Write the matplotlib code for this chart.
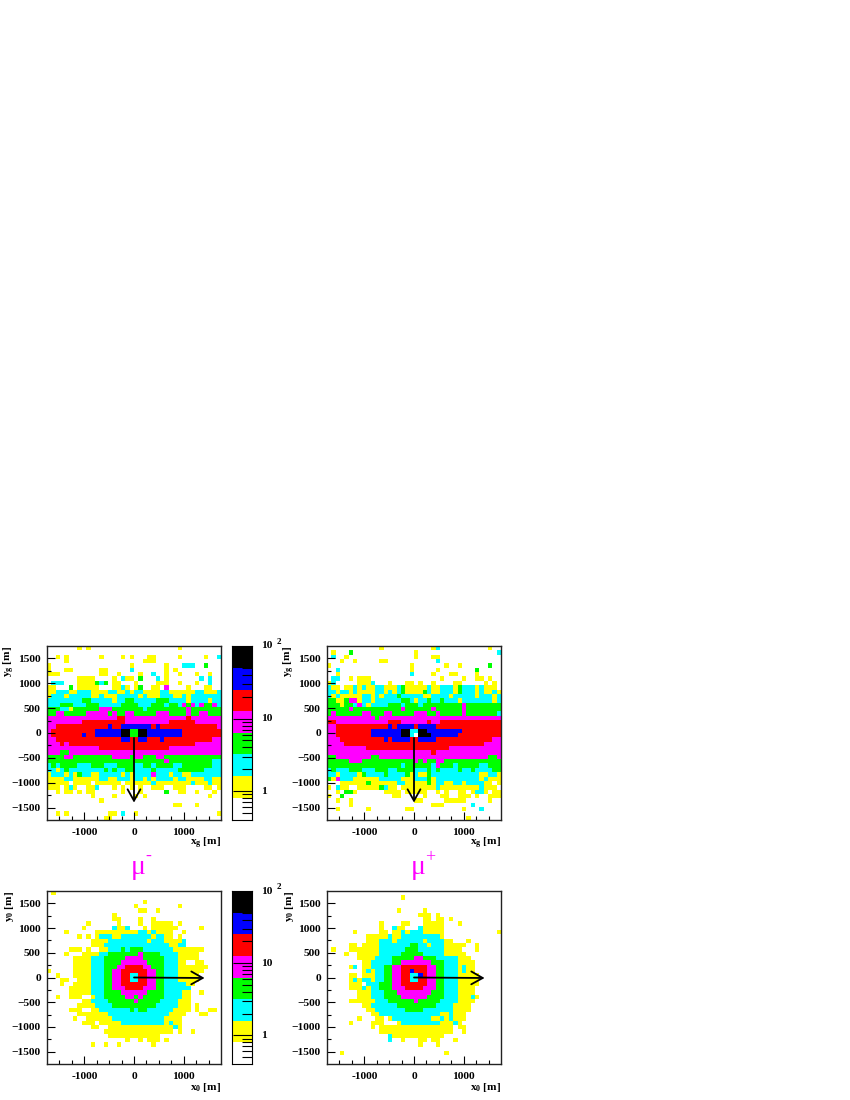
import numpy as np
import matplotlib
matplotlib.use("Agg")
from matplotlib import pyplot as plt
from matplotlib.colors import ListedColormap, BoundaryNorm

# colour level of each bin, top row first, 0 = empty ... 7 = black
grid_xg_minus = """
0000000101 0000000000 0000000000 1000000000
0000000000 0000000000 0000000000 0000000000
0010100000 0010000101 0001100000 1000001002
0000100000 0000000000 0011100000 0000000000
1000000000 0000000001 0000000100 0222003000
1000110000 0011000002 0000000101 0000000000
1110000000 0011001000 0100200100 1000100100
0000000111 1000010211 0300020100 0000020200
0222000111 1323011000 1000011100 1000100200
1100030111 1100011210 1300110400 0010001100
1122211222 1111221121 2211112211 1111221112
1222122222 1121112222 2121112221 1212222222
2222222233 2222212233 2222233322 2212222122
2223332223 3322222333 3222333233 2434243342
3332213333 3344433333 3323333333 3343333333
3344333334 4444343344 3333344433 3343344333
4444444444 4444445544 4444444444 4454444444
4444444455 5555555544 4444444455 5555444444
4455555555 5555655666 6666565555 5555555554
4555555555 5666666773 3776666666 6555555555
4555555565 5666666773 3776666666 6555555555
4455555555 5555555665 5665556555 5555555544
4445455555 5555555555 5555555555 5555444444
4444444444 4455555555 5555555544 4444444444
4443344444 4444444444 4444444444 4444444444
3333443333 3333344443 4433344333 3333333333
3333333333 3333333333 3333333433 3333333322
2323333222 3332223333 2233233332 2333333322
2212322222 2223232233 2222322222 3333332222
1222121322 1122222121 2222422212 2112222222
1111221111 1122112221 2212122221 2211112211
1111101111 0111111011 1111211111 1112111211
1110121001 1200010101 0100111001 1100001101
0010110101 1000000100 0100000300 1100100010
0000000000 1000010000 1010000000 0000000100
0000000000 0010000000 0000000000 0000000000
0000000000 0000000000 0000000001 1000100000
0000000000 0000000000 0000000000 0000000000
0010100000 0000110200 1000000000 0000000001
0000000000 0001100000 0000000000 0000000000
"""

grid_xg_plus = """
0000000000 0010000000 0000120000 0000000100
0100030000 0000000000 1000000000 0000000002
0200100000 0000000000 1000110000 0000000000
0001001000 0011000000 0000020000 0000000000
1000000000 0000000001 0000000100 1000000300
0020000000 0000000001 0000010000 0000300000
0010000000 0000000002 0000100011 0000100000
0220010111 0000000000 0000001000 0100110100
1200000111 2000100011 0100100001 1000001010
2110112121 1221112311 1112112221 3222121110
2212212111 1221212311 1132112221 3222121121
2121111122 1212223222 2211222212 2222122212
3311344122 1222222332 1223223222 1222222212
3331332421 2222333233 3233333333 3433333333
3333343333 3333333433 3333433333 3433333333
3433333344 3334433333 4443343333 3433333332
4444444444 4344444444 4444444444 4444444444
5544444444 4444555444 4445445555 5555555555
4455555555 5555656666 5666655555 5555555555
4455555555 6666666772 2776666666 6555555555
4455555555 6666666772 0777666666 5555555555
4445555555 5556566665 5666655555 5555555544
4444555555 5555555555 5555555555 5555554444
4444444445 5555555555 5555555544 4444444444
4444444444 4444444444 4444544444 4444444444
3344444444 3344444444 4444444444 4444444334
3333344433 3333333333 4343344333 3333333333
3333333333 3333333233 3333243332 3333322333
2322233322 2333223333 2223232222 3223222233
2212222132 2223222231 2113222222 2222211221
3142221111 1122222111 2223122222 2222212111
0001111113 1111112211 1113122112 2122221101
1021100111 1132110111 1111121111 1111121110
0010331000 0001111011 1110010100 1101221011
1003000000 0000011000 0010001100 1110100111
0010010000 0000000000 1100000111 1100000100
0000010000 0000000000 0000111000 0002000000
0010000001 0000000011 0000000000 0100020000
0000000000 0000000000 0000000000 0000000000
0000000000 0000000000 0000000000 0010000000
"""

grid_x0_minus = """
0100000000 0000000000 0000000000 0000000000
0000000000 0000000000 0000000000 0000000000
0000000000 0000000000 0010000000 0000000000
0000000000 0000000000 1000000000 1000000000
0000000000 0000000000 0110010000 0000000000
0000000000 0000010000 0000000000 0000000000
0000000000 0000011000 0100100000 0000000000
0000000001 0000001000 0100111110 1000000000
0000000010 0000021120 0010111111 0000010000
0000100000 0111111111 1221211110 0100000000
0000000101 0122211222 2222122110 1000000000
0000000000 1111222222 2221222111 1200000000
0000000000 1112222222 2222222211 2200000000
0000011101 0011222323 3322222221 1111110000
0000100011 1122333333 3433332222 1111100000
0000001111 2223333344 4433333222 1111100000
0000001111 2223333444 4443333222 1100110000
0000001111 2223334455 5544333222 1111111000
1000001111 2223344555 5554433222 1111110000
0010001111 2223344552 2554433222 1111100000
0001100111 2223344552 2554433222 1111100000
0001001111 2223344555 5554433222 2211000000
0000011111 2223344455 5544433222 2220000000
0000011111 2223333444 4443333222 2110010000
0010011100 1223333344 3433333222 2110000000
0000000011 2222333333 4333332222 1110000000
0000000111 1222233333 3333322222 1110100000
0000011100 1122222223 2332222221 1110100110
0000000111 1111222222 2222222211 1100011000
0000001001 1111122222 2222222111 1000000000
0000000011 1011111222 2222222121 1000000000
0000000000 1100111111 1111111112 1000000000
0000000000 0001111111 1111111110 1001000000
0000000000 0000111111 1111110000 0000000000
0000000000 0000000010 0101110100 0000000000
0000000000 1001001000 0000100000 0000000000
0000000000 0000000000 0000000000 0000000000
0000000000 0000000000 0000000000 0000000000
0000000000 0000000000 0000000000 0000000000
0000000000 0000000000 0000000000 0000000000
"""

grid_x0_plus = """
0000000000 0000000000 0000000000 0000000000
0000000000 0000000100 0000000000 0000000000
0000000000 0000000000 0000000000 0000000000
0000000000 0000000000 0000000000 0000000000
0000000000 0000001000 0010000000 0000000000
0000000000 0000000000 0111010000 0000000000
0000000000 0000000000 0011011010 0000000000
0000000000 0010000110 0011111000 1000000000
0000000000 0010021100 0211111000 0000000000
0000001000 0011011212 2211111000 0000000001
0000000001 1111211222 2222221000 0000000000
0000000001 1122212222 2212222110 0010000000
0000011011 1122222223 3221222111 1100100000
0100011111 1122222233 3222222111 1000100000
0000100111 1122222333 3322222111 1100000000
0000000111 1222233333 4433322222 1110000000
0000000011 2222233444 4444333222 1111000000
0000012011 2223344555 5554433222 1211000000
0000000012 1223344556 5554433222 1211000000
0000011011 1223344552 2654433222 1111100000
0000012122 1223344552 2554433222 1111100000
0000011102 2233344555 5554433222 1111100000
0000011121 2233344455 5544433222 1111000000
0000000111 2223334444 4444333222 1111000000
0000000111 2223333444 4443333222 1112100000
0000011111 1222333333 4333332222 1111000000
0000000011 2222223333 3333322221 1110000000
0000000001 1222222233 3322222221 1110000000
0000000000 1122222222 2222221121 1100000000
0000000100 0110122222 2222112121 1100000000
0000010000 1110001222 2222221112 1000000000
0000000000 1011111111 1111111110 1100000000
0000000000 0011111111 1111111110 0100000000
0000000000 0000211111 1111111000 0000000000
0000000000 0000200100 0110110001 0000000000
0000000000 0000000000 0100010000 0000000000
0000000000 0000000000 0000000000 0000000000
0001000000 0000000000 0000000100 0000000000
0000000000 0000000000 0000000000 0000000000
0000000000 0000000000 0000000000 0000000000
"""

level_colors = ["white", "#ffff00", "#00ffff", "#00ff00", "#ff00ff", "#ff0000", "#0000ff", "black"]
level_edges = [0.4, 0.8, 1.6, 3.2, 6.3, 12.6, 25, 50, 100]
major_ticks = [-1500, -1000, -500, 0, 500, 1000, 1500]
x_labels = ["-1000", "0", "1000"]

plt.rcParams["font.family"] = "Liberation Serif"
plt.rcParams["font.weight"] = "bold"
plt.rcParams["mathtext.fontset"] = "custom"
plt.rcParams["mathtext.rm"] = "Liberation Serif:bold"
plt.rcParams["mathtext.it"] = "Liberation Serif:bold"
plt.rcParams["mathtext.bf"] = "Liberation Serif:bold"

W, H = 850.0, 1100.0
cmap = ListedColormap(level_colors)
norm = BoundaryNorm(np.arange(-0.5, 8.5), 8)
edges = np.linspace(-1750, 1750, 41)


def parse(text):
    rows = [r.replace(" ", "") for r in text.strip().splitlines()]
    return np.array([[int(c) for c in r] for r in rows])[::-1]


def make_axes(left, top, right, bottom):
    return fig.add_axes([left / W, 1 - bottom / H, (right - left) / W, (bottom - top) / H])


def panel(box, grid, xname, yname, arrow_end, arrow_start):
    ax = make_axes(*box)
    ax.pcolormesh(edges, edges, parse(grid), cmap=cmap, norm=norm)
    ax.set_xlim(-1750, 1750)
    ax.set_ylim(-1750, 1750)
    ax.set_xticks([-1000, 0, 1000])
    ax.set_xticklabels(x_labels)
    ax.set_yticks(major_ticks)
    ax.set_xticks(np.arange(-1500, 1501, 250), minor=True)
    ax.set_yticks(np.arange(-1500, 1501, 250), minor=True)
    ax.tick_params(which="major", direction="in", length=6, width=0.8, labelsize=8.2)
    ax.tick_params(axis="x", which="major", pad=6)
    ax.tick_params(axis="y", which="major", pad=4.5)
    ax.tick_params(which="minor", direction="in", length=3, width=0.8)
    for s in ax.spines.values():
        s.set_linewidth(1.0)
        s.set_color("#222222")
    ax.text(1.0, -0.135, xname, transform=ax.transAxes, ha="right", va="center", fontsize=8.2)
    ax.text(-0.215, 1.0, yname, transform=ax.transAxes, ha="center", va="top", rotation=90, fontsize=8.2)
    ax.annotate("", xy=arrow_end, xytext=arrow_start,
                arrowprops=dict(arrowstyle="->,head_length=0.75,head_width=0.42", lw=1.3, color="black",
                                shrinkA=0, shrinkB=0, mutation_scale=11))
    return ax


def colorbar(box):
    ax = make_axes(*box)
    ax.set_yscale("log")
    ax.pcolormesh([0, 1], level_edges, np.arange(8).reshape(-1, 1), cmap=cmap, norm=norm)
    ax.set_ylim(0.4, 100)
    ax.set_xlim(0, 1)
    ax.set_xticks([])
    ax.yaxis.tick_right()
    ax.set_yticks([1, 10])
    ax.set_yticklabels([])
    minor = [v * d for d in (0.1, 1, 10) for v in range(2, 10) if v * d > 0.4]
    ax.set_yticks(minor, minor=True)
    ax.set_yticklabels([], minor=True)
    ax.tick_params(which="major", direction="in", length=14, width=0.8)
    ax.tick_params(which="minor", direction="in", length=7, width=0.8)
    trans = ax.get_yaxis_transform()
    ax.text(1.45, 1, "1", transform=trans, ha="left", va="center", fontsize=8.2)
    ax.text(1.45, 10, "10", transform=trans, ha="left", va="center", fontsize=8.2)
    ax.text(1.45, 100, "10", transform=trans, ha="left", va="center", fontsize=8.2)
    ax.text(2.25, 100, "2", transform=trans, ha="left", va="bottom", fontsize=6.5)
    return ax


fig = plt.figure(figsize=(8.5, 11), dpi=100)

panel((47, 646, 221, 820), grid_xg_minus, r"x$_{\mathrm{g}}$ [m]", r"y$_{\mathrm{g}}$ [m]", (0, -1400), (0, -100))
panel((327, 646, 501, 820), grid_xg_plus, r"x$_{\mathrm{g}}$ [m]", r"y$_{\mathrm{g}}$ [m]", (0, -1400), (0, -100))
panel((47, 891, 221, 1064), grid_x0_minus, r"x$_{\mathrm{0}}$ [m]", r"y$_{\mathrm{0}}$ [m]", (1420, -10), (0, 0))
panel((327, 891, 501, 1064), grid_x0_plus, r"x$_{\mathrm{0}}$ [m]", r"y$_{\mathrm{0}}$ [m]", (1420, -10), (0, 0))
colorbar((232, 646, 252, 820))
colorbar((232, 891, 252, 1064))

for x0, sign, sy in ((131, "-", 856), (411, "+", 858)):
    fig.text(x0 / W, 1 - 868 / H, "μ", color="#ff00ff", fontsize=20, fontweight="normal", va="center", ha="left")
    fig.text((x0 + 14) / W, 1 - sy / H, sign, color="#ff00ff", fontsize=13, fontweight="normal", va="center", ha="left")

fig.savefig("out.png", dpi=100)
